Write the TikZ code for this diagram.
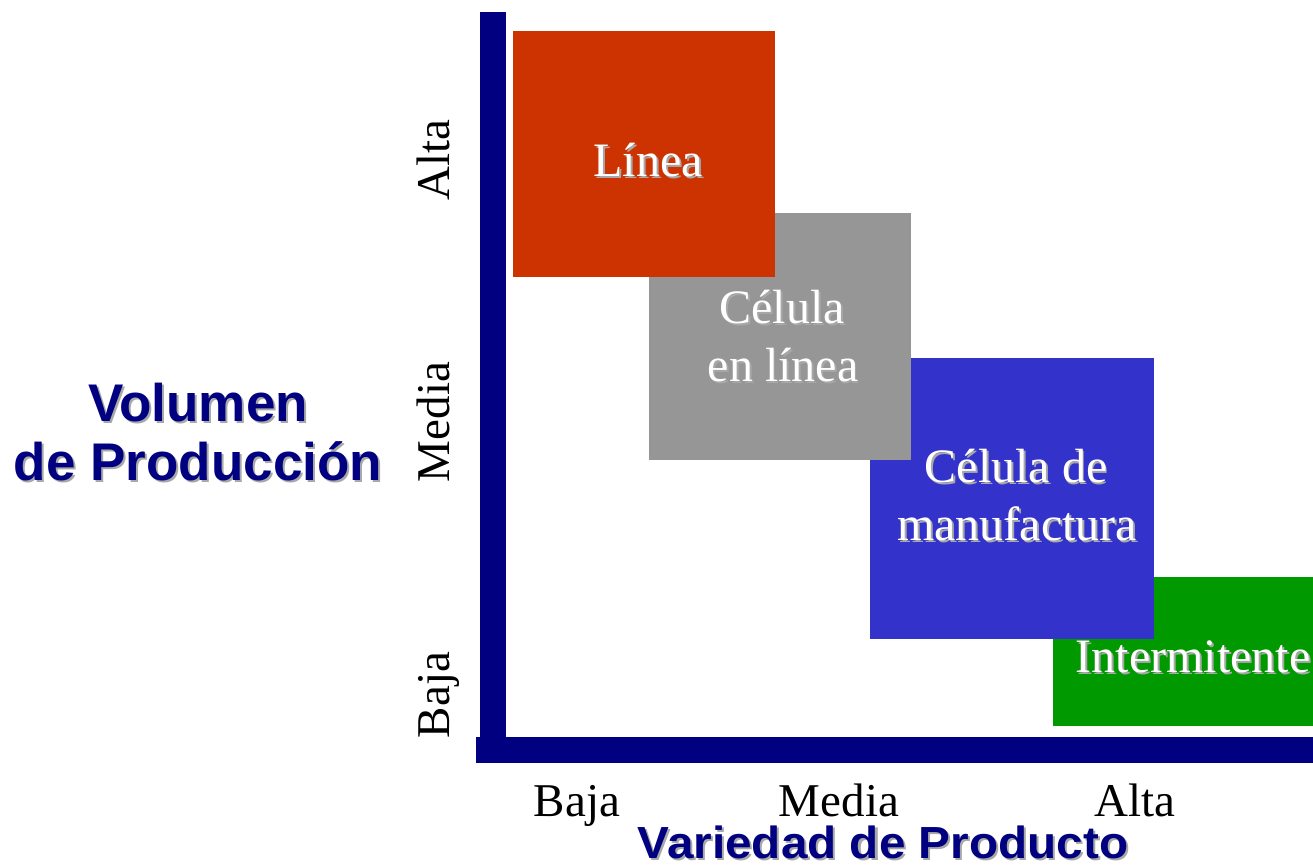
\documentclass[tikz,border=0pt]{standalone}
\usepackage{fontspec}
\setmainfont{Liberation Serif}
\newfontfamily\titlefont{Liberation Sans}
\definecolor{cred}{HTML}{CC3300}
\definecolor{cgray}{HTML}{969696}
\definecolor{cblue}{HTML}{3333CC}
\definecolor{cgreen}{HTML}{009900}
\definecolor{cnavy}{HTML}{000080}
\definecolor{cshadow}{HTML}{A8A8A8}
\newcommand\shad[1]{\makebox[0pt][l]{\hspace{2pt}\raisebox{-2pt}{\textcolor{cshadow}{#1}}}#1}
\tikzset{
  boxtext/.style={text=white, inner sep=0pt, anchor=base, font=\fontsize{48}{58}\selectfont},
  ticklabel/.style={text=black, inner sep=0pt, font=\fontsize{47}{56}\selectfont},
  axistitle/.style={text=cnavy, inner sep=0pt, anchor=base, font=\titlefont\bfseries\fontsize{53}{62}\selectfont},
}
\begin{document}
\begin{tikzpicture}[x=1pt,y=-1pt]
\useasboundingbox (0,0) rectangle (1313,865);
% boxes (back to front)
\fill[cgreen] (1053,577) rectangle (1313,726);
\fill[cblue] (870,358) rectangle (1154,639);
\fill[cgray] (649,213) rectangle (911,460);
\fill[cred] (513,31) rectangle (775,277);
% axes
\fill[cnavy] (480,12) rectangle (506,763);
\fill[cnavy] (476,737) rectangle (1313,763);
% box labels
\node[boxtext] (linea) at (648,176) {\shad{Línea}};
\node[boxtext] (cel1) at (782,323) {\shad{Célula}};
\node[boxtext] (cel2) at (783,381) {\shad{en línea}};
\node[boxtext] (man1) at (1016,482) {\shad{Célula de}};
\node[boxtext] (man2) at (1017,540) {\shad{manufactura}};
\node[boxtext] (inter) at (1193,672) {\shad{Intermitente}};
% vertical tick labels
\node[ticklabel, rotate=90, anchor=base] (valta) at (449,160) {Alta};
\node[ticklabel, rotate=90, anchor=base] (vmedia) at (449,422) {Media};
\node[ticklabel, rotate=90, anchor=base] (vbaja) at (449,695) {Baja};
% horizontal tick labels
\node[ticklabel, anchor=base] (hbaja) at (577,816) {Baja};
\node[ticklabel, anchor=base] (hmedia) at (839,816) {Media};
\node[ticklabel, anchor=base] (halta) at (1135,816) {Alta};
% titles
\node[axistitle] (vol1) at (198,421) {\shad{Volumen}};
\node[axistitle] (vol2) at (198,480) {\shad{de Producción}};
\node[axistitle, font=\titlefont\bfseries\fontsize{45}{54}\selectfont, xscale=1.06] (var) at (883,858) {\shad{Variedad de Producto}};
\end{tikzpicture}
\end{document}
